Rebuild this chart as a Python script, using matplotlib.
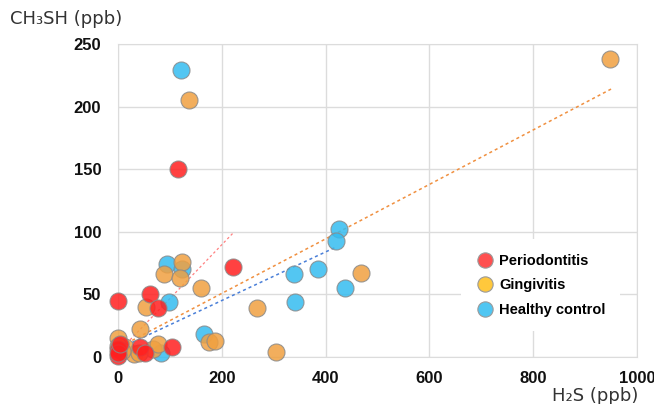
import matplotlib
matplotlib.use("Agg")
import matplotlib.pyplot as plt
from matplotlib.lines import Line2D

# H2S vs CH3SH (ppb)
perio_x = [115, 222, 0, 61, 77, 104, 0, 0, 0, 43, 52, 3]
perio_y = [150, 72, 45, 50, 39, 8, 6, 1, 3, 8, 3, 10]

ging_x = [948, 137, 124, 89, 120, 160, 54, 42, 0, 268, 304, 176, 187, 469,
          30, 14, 68, 78, 0, 40, 8]
ging_y = [238, 205, 76, 66, 63, 55, 40, 22, 15, 39, 4, 12, 13, 67,
          2, 8, 6, 10, 9, 3, 5]

hc_x = [121, 425, 421, 385, 340, 341, 437, 94, 123, 99, 165, 83]
hc_y = [229, 102, 93, 70, 66, 44, 55, 74, 70, 44, 18, 3]

# trend line end points
perio_fit_x = [10, 224]
perio_fit_y = [8, 100]
ging_fit_x = [17, 950]
ging_fit_y = [11, 214]
hc_fit_x = [17, 421]
hc_fit_y = [9.6, 88]

red = '#FF2020'
orange = '#F0A040'
blue = '#35BCF0'

fig = plt.figure(figsize=(6.54, 4.04), dpi=100)
ax = fig.add_axes([118/654, 1 - 357/404, (637-118)/654, (357-44)/404])

ax.plot(perio_fit_x, perio_fit_y, linestyle=(0, (2, 2)), color='#FF8080', lw=0.9, zorder=2)
ax.plot(ging_fit_x, ging_fit_y, linestyle=(0, (2, 2)), color='#F09040', lw=1.1, zorder=2)
ax.plot(hc_fit_x, hc_fit_y, linestyle=(0, (2, 2)), color='#4A7FD8', lw=1.1, zorder=2)

kw = dict(s=150, edgecolors='#8a8a8a', linewidths=0.8, alpha=0.85, clip_on=False, zorder=3)
ax.scatter(hc_x, hc_y, c=blue, **kw)
ax.scatter(ging_x, ging_y, c=orange, **kw)
ax.scatter(perio_x, perio_y, c=red, **kw)

ax.set_xlim(0, 1000)
ax.set_ylim(0, 250)
ax.set_xticks(range(0, 1001, 200))
ax.set_yticks(range(0, 251, 50))
ax.grid(True, color='#dcdcdc', lw=1)
ax.set_axisbelow(True)
for sp in ax.spines.values():
    sp.set_color('#dcdcdc')
ax.tick_params(length=0)
ax.tick_params(axis='y', pad=12)
ax.tick_params(axis='x', pad=10)
tick_font = ['Liberation Sans', 'DejaVu Sans']
for lab in ax.get_xticklabels() + ax.get_yticklabels():
    lab.set_family(tick_font)
    lab.set_fontweight('bold')
    lab.set_fontsize(12)
    lab.set_color('#111111')

fig.text(10/654, 1 - 19/404, 'CH₃SH (ppb)', fontsize=13, color='#333333',
         family=['DejaVu Sans'], va='center', ha='left')
fig.text(638/654, 1 - 396/404, 'H₂S (ppb)', fontsize=13, color='#333333',
         family=['DejaVu Sans'], va='center', ha='right')

handles = [
    Line2D([], [], marker='o', ls='', ms=11, mfc='#FF5050', mec='#9a9a9a', mew=0.8, label='Periodontitis'),
    Line2D([], [], marker='o', ls='', ms=11, mfc='#FFC83C', mec='#9a9a9a', mew=0.8, label='Gingivitis'),
    Line2D([], [], marker='o', ls='', ms=11, mfc='#50C6F2', mec='#9a9a9a', mew=0.8, label='Healthy control'),
]
leg = ax.legend(handles=handles, loc='upper left', bbox_to_anchor=((454-118)/519, (357-232)/313),
                frameon=True, facecolor='white', edgecolor='none', framealpha=1, fancybox=False,
                prop={'family': ['Liberation Sans', 'DejaVu Sans'], 'weight': 'bold', 'size': 10.5},
                handletextpad=0.4, labelspacing=0.72, borderpad=1.0, handlelength=1.2)
leg.set_zorder(5)

fig.savefig('out.png', dpi=100)
